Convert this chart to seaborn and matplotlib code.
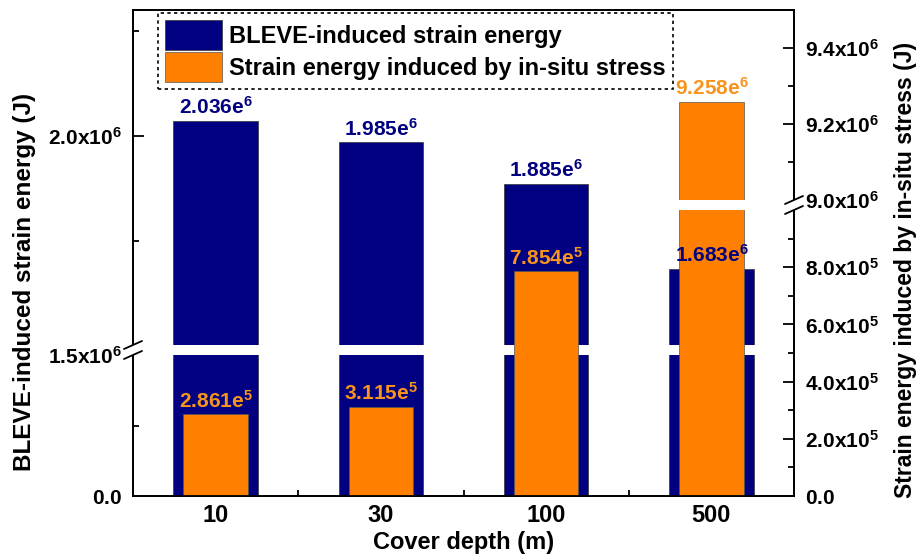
import numpy as np
import pandas as pd
import matplotlib
matplotlib.use("Agg")
import matplotlib.pyplot as plt
import seaborn as sns
from matplotlib.patches import Patch, Rectangle
from matplotlib.lines import Line2D

# ---- data -------------------------------------------------------------
depth = ["10", "30", "100", "500"]
bleve_energy = [2.036e6, 1.985e6, 1.885e6, 1.683e6]      # left axis (J)
insitu_energy = [2.861e5, 3.115e5, 7.854e5, 9.258e6]     # right axis (J)

left_major = [0.0, 1.5e6, 2.0e6]
left_major_labels = ["0.0", "1.5x10^{6}", "2.0x10^{6}"]
left_minor = [0.75e6, 1.75e6, 2.25e6]

right_major = [0.0, 2e5, 4e5, 6e5, 8e5, 9.0e6, 9.2e6, 9.4e6]
right_major_labels = ["0.0", "2.0x10^{5}", "4.0x10^{5}", "6.0x10^{5}",
                      "8.0x10^{5}", "9.0x10^{6}", "9.2x10^{6}", "9.4x10^{6}"]
right_minor = [1e5, 3e5, 5e5, 7e5, 9e5, 9.1e6, 9.3e6]

# axis breaks: (last value below the break, first value above it)
left_break = (1.5e6, 1.5e6 + 1.0)
right_break = (1.0e6, 9.0e6)

navy = "#000080"
orange = "#FF8000"
orange_text = "#F7941D"

# ---- style --------------------------------------------------------------
sns.set_style("ticks")
plt.rcParams.update({
    "font.family": ["Liberation Sans", "DejaVu Sans"],
    "font.weight": "bold",
    "axes.labelweight": "bold",
    "mathtext.fontset": "custom",
    "mathtext.rm": "Liberation Sans:bold",
    "mathtext.bf": "Liberation Sans:bold",
    "mathtext.it": "Liberation Sans:bold",
    "axes.linewidth": 1.3,
    "axes.edgecolor": "black",
    "axes.labelcolor": "black",
    "text.color": "black",
    "xtick.color": "black",
    "ytick.color": "black",
    "xtick.labelcolor": "black",
    "ytick.labelcolor": "black",
})


def piecewise(xp, fp):
    """Piecewise-linear map through the knots, extended linearly at both ends."""
    xp = np.asarray(xp, float)
    fp = np.asarray(fp, float)

    def f(v):
        v = np.asarray(v, float)
        out = np.interp(v, xp, fp)
        lo_slope = (fp[1] - fp[0]) / (xp[1] - xp[0])
        hi_slope = (fp[-1] - fp[-2]) / (xp[-1] - xp[-2])
        out = np.where(v < xp[0], fp[0] + (v - xp[0]) * lo_slope, out)
        out = np.where(v > xp[-1], fp[-1] + (v - xp[-1]) * hi_slope, out)
        return out
    return f


# broken scales: lower and upper segments with a short gap between them
left_knots = ([0.0, left_break[0], left_break[1], 2.0e6], [0, 141, 151, 360])
right_knots = ([0.0, right_break[0], right_break[1], 9.2e6], [0, 286, 296, 372])
fwd_l, inv_l = piecewise(*left_knots), piecewise(left_knots[1], left_knots[0])
fwd_r, inv_r = piecewise(*right_knots), piecewise(right_knots[1], right_knots[0])
axis_span = 486  # height of the plotting area in scale units

df = pd.DataFrame({"depth": depth, "bleve": bleve_energy, "insitu": insitu_energy})

fig = plt.figure(figsize=(9.17, 5.56), dpi=100)
ax = fig.add_axes([133 / 917, 60 / 556, 661 / 917, 486 / 556])

sns.barplot(data=df, x="depth", y="bleve", ax=ax, color=navy, saturation=1,
            width=0.51, errorbar=None, edgecolor="#333333", linewidth=0.5)
ax2 = ax.twinx()
sns.barplot(data=df, x="depth", y="insitu", ax=ax2, color=orange, saturation=1,
            width=0.39, errorbar=None, edgecolor="#555555", linewidth=0.5)

ax.set_yscale("function", functions=(fwd_l, inv_l))
ax2.set_yscale("function", functions=(fwd_r, inv_r))
ax.set_ylim(0, float(inv_l(axis_span)))
ax2.set_ylim(0, float(inv_r(axis_span)))
ax.set_xlim(-0.5, len(depth) - 0.5)

# white gaps through the bars that cross a break
xpos = np.arange(len(depth))
b_vals = np.asarray(bleve_energy)
o_vals = np.asarray(insitu_energy)
cut_b = b_vals > left_break[1]
ax.bar(xpos[cut_b], left_break[1] - left_break[0], bottom=left_break[0],
       width=0.53, color="white", linewidth=0, zorder=3)
cut_o = o_vals > right_break[1]
ax2.bar(xpos[cut_o], right_break[1] - right_break[0], bottom=right_break[0],
        width=0.41, color="white", linewidth=0, zorder=3)

# ticks
ax.set_yticks(left_major, [rf"$\mathbf{{{t}}}$" for t in left_major_labels])
ax.set_yticks(left_minor, minor=True)
ax2.set_yticks(right_major, [rf"$\mathbf{{{t}}}$" for t in right_major_labels])
ax2.set_yticks(right_minor, minor=True)
ax.set_xticks(xpos, depth)
ax.set_xticks(xpos[:-1] + 0.5, minor=True)

ax.tick_params(axis="y", which="both", direction="in", left=True, right=False,
               labelsize=15, pad=8, width=1.3)
ax.tick_params(axis="x", which="both", direction="in", bottom=True, top=False,
               labelsize=17, pad=6, width=1.3)
ax.tick_params(which="major", length=8)
ax.tick_params(which="minor", length=4.5)
ax2.tick_params(axis="y", which="both", direction="in", right=True, left=False,
                labelsize=15, pad=8, width=1.3)
ax2.tick_params(which="major", length=8)
ax2.tick_params(which="minor", length=4.5)
ax2.tick_params(axis="x", which="both", bottom=False, top=False)

# the tick sitting on a break is replaced by the break mark
ax.yaxis.get_major_ticks()[1].tick1line.set_visible(False)
ax2.yaxis.get_major_ticks()[5].tick2line.set_visible(False)

# labels
ax.set_xlabel("Cover depth (m)", fontsize=17, fontweight="bold", labelpad=3)
ax.set_ylabel("BLEVE-induced strain energy (J)", fontsize=17.5, fontweight="bold")
ax2.set_ylabel("Strain energy induced by in-situ stress (J)", fontsize=16.5,
               fontweight="bold", rotation=90)
ax.yaxis.set_label_coords(-0.147, 0.44)
ax2.yaxis.set_label_coords(1.151, 0.465)


def sci_label(v):
    e = int(np.floor(np.log10(v)))
    return rf"$\mathbf{{{v / 10 ** e:.3f}e^{{{e}}}}}$"


for i, v in enumerate(bleve_energy):
    ax2.annotate(sci_label(v), xy=(i, v), xycoords=ax.transData,
                 xytext=(0, 2), textcoords="offset points",
                 ha="center", va="bottom", color=navy, fontsize=15, zorder=6)
for i, v in enumerate(insitu_energy):
    ax2.annotate(sci_label(v), xy=(i, v), xycoords=ax2.transData,
                 xytext=(0, 2), textcoords="offset points",
                 ha="center", va="bottom", color=orange_text, fontsize=15, zorder=6)

# break marks on the spines
ax_w, ax_h = 661, 486
for xs, lo, hi in ((0.0, 141, 151), (1.0, 286, 296)):
    y0, y1 = lo / ax_h, hi / ax_h
    ax2.add_patch(Rectangle((xs - 4 / ax_w, y0), 8 / ax_w, y1 - y0,
                            transform=ax2.transAxes, facecolor="white",
                            edgecolor="none", clip_on=False, zorder=7))
    for yy in (y0, y1):
        ax2.add_line(Line2D([xs - 9 / ax_w, xs + 9 / ax_w],
                            [yy - 4 / ax_h, yy + 4 / ax_h],
                            transform=ax2.transAxes, color="black", lw=1.3,
                            clip_on=False, zorder=8))

# legend
handles = [Patch(facecolor=navy, edgecolor="#333333", linewidth=0.5),
           Patch(facecolor=orange, edgecolor="#555555", linewidth=0.5)]
leg = ax2.legend(handles, ["BLEVE-induced strain energy",
                           "Strain energy induced by in-situ stress"],
                 loc="upper left", bbox_to_anchor=(25 / 661, 1 - 3 / 486),
                 borderaxespad=0, prop={"weight": "bold", "size": 17},
                 handlelength=2.4, handleheight=1.55, handletextpad=0.3,
                 labelspacing=0.12, borderpad=0.3, fancybox=False,
                 framealpha=1, edgecolor="black")
leg.get_frame().set_linestyle((0, (2, 2)))
leg.get_frame().set_linewidth(1.2)
leg.set_zorder(10)

fig.savefig("out.png", dpi=100)
